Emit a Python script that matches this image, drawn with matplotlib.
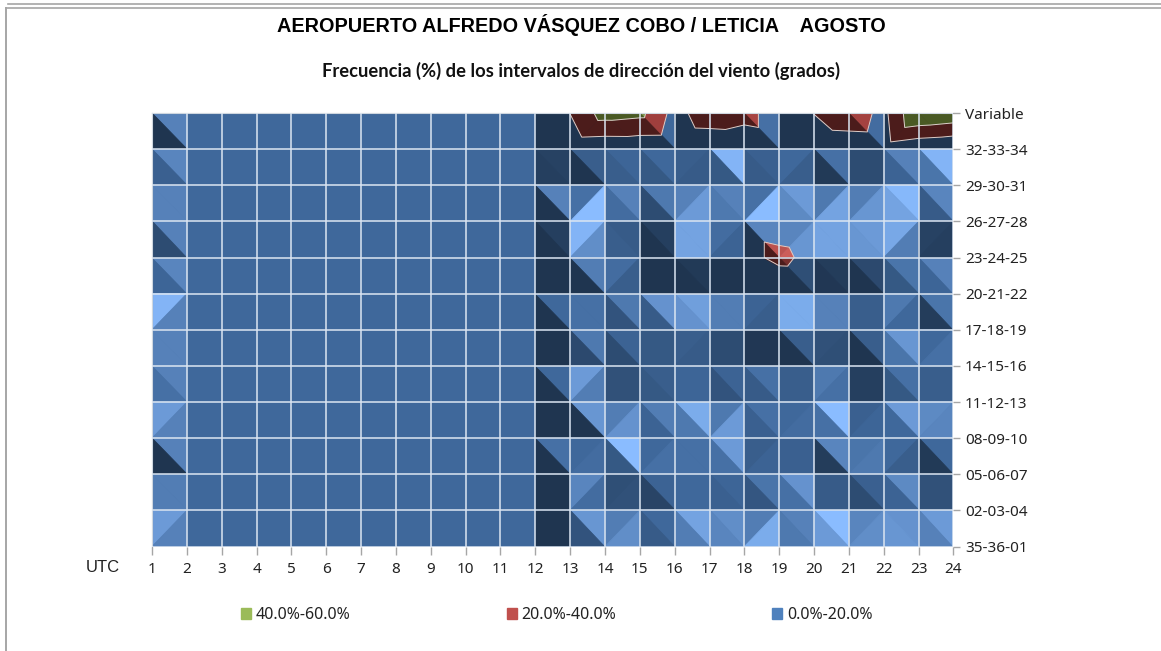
import matplotlib
matplotlib.use("Agg")
import matplotlib.pyplot as plt
import matplotlib.tri as mtri
import numpy as np
from matplotlib.collections import PolyCollection
from matplotlib.colors import LinearSegmentedColormap
from matplotlib.lines import Line2D
from matplotlib.patches import Patch

hours = list(range(1, 25))
directions = ["Variable", "32-33-34", "29-30-31", "26-27-28", "23-24-25", "20-21-22", "17-18-19",
              "14-15-16", "11-12-13", "08-09-10", "05-06-07", "02-03-04", "35-36-01"]

# facet shading, -10 darkest, 0 flat, 10 brightest
upper_hour1 = [3, 3.5, 3, 3, 3.5, 9, 3, 3, 6, 3, 2.5, 6]
lower_hour1 = [-10, -1.5, 3, -5.5, -0.5, 3, 3, 1, 3, -10, 2.5, 3]

# cells 12-13 up to 23-24
upper_late = [
    [-10, -10, -10, 0, -10, -10, 1, -10, -10, 0.5, -10, -10],
    [-7.5, -2, -0.5, 0, -2, 9, -1.5, 0, 1, -5.5, 3, 9],
    [3, 1, 3, 2, 3, 3, 1, 6, 2, 2.5, 9.5, 3.5],
    [-8, 9, -2.5, -8, 7, 0.5, 3.5, 3.5, 7, 6, 7.5, -7.5],
    [-10, 2.5, 0.5, -10, -9, -10, -10, -5, -8.5, -6, 1.5, 3],
    [0, 1, 2, 5, 6.5, 2.5, -1, 8, 3, -2, 2, 1.5],
    [-10, 2, -1, -3, -2, -5.5, -9.5, -2, -4.5, -2, 5.5, 0],
    [0, 6, -4.5, -2, -0.5, -1, 1, -2, 2, -8, 1, -2],
    [-10, 5.5, 2.5, 2.5, 8, 2, 1, 0, 10, -1.5, 6, 4],
    [1, 0, 10, 0, 1, 6, -2, -1.5, 3.5, 1.5, 0, 0],
    [-10, 3.5, -5, -1, 0, -0.5, 1.5, 5, -2.5, -1.5, 4, -4.5],
    [-10, 5.5, 2.5, 0, 7, 4.5, 2.5, 3, 10, 3.5, 5, 6],
]
lower_late = [
    [-10, -10, -10, -10, -10, -10, -10, -10, -10, -10, -10, -10],
    [-8, -10, -2, -3, -2.5, -3, -2.5, -2, -9, -5.5, -1, 1.5],
    [-10, 10, 0.5, -5.5, 6, 2, 10, 4, 7, 5.5, 7, -2.5],
    [-10, 4.5, -2, -10, 7, -1, -10, 5.5, 7, 5.5, 2.5, -8],
    [-10, -10, -2, -10, -10, -10, -10, -10, -9.5, -10, -3, -0.5],
    [-10, 1, -4, -2.5, 5, 2.5, -2, 8, 3, -2, 0, -8.5],
    [-10, -6, -5.5, -3, -2.5, -5.5, -9.5, -10, -5, -10, 1.5, 1],
    [-10, 2.5, -4.5, -3, -0.5, -4, -2.5, -2, 1, -8, -3, -2],
    [-10, -10, 5, -1, 2, 6, -1.5, 0.5, 1, -0.5, 0, 3.5],
    [-10, 0.5, -3, 1, 1, 1, -1, -1.5, -8.5, 2, -2, -9],
    [-10, 0.5, -4.5, -7, 0, -1.5, -3.5, 1, -2.5, -5.5, -1, -4.5],
    [-10, -4, 4.5, -2.5, 2.5, 3.5, 8, 2, 6, 4.5, 5.5, 3],
]

# cells (by starting hour) split from bottom-left to top-right, per row
anti_cells = [[13, 16, 20, 22], [16, 19], [13, 16, 18, 20, 21], [13, 17, 19, 22, 23], [14], [1, 18, 22],
              [16, 20, 23], [13, 20], [1, 14, 17, 19, 21, 23], [13, 15, 18, 21, 22], [13, 14, 16], [1, 14, 18, 21]]

# frequency estimates where the surface comes near or above 20 %, all else stays in the 0-20 band
freq_variable = [4, 0, 0, 0, 0, 0, 0, 0, 0, 0, 0, 0, 20.5, 49, 45.5, 13, 31.4, 26.7, 10, 20.5, 31, 14.6, 60, 55]
freq_3233_late = [5.6, 4, 4.4, 4, 4.9, 6.4, 10, 8, 9, 10, 3, 0]
freq_2627_h18 = [14.7, 12, 10]
freq_2324_h18 = [14.7, 24, 14.7]
freq_2021_h18 = [5, 6.6, 7.3]

band_levels = [20, 40]
band_labels = ["40.0%-60.0%", "20.0%-40.0%", "0.0%-20.0%"]
band_colors = ["#9BBB59", "#C0504D", "#4F81BD"]

upper = np.zeros((12, 23))
lower = np.zeros((12, 23))
upper[:, 0] = upper_hour1
lower[:, 0] = lower_hour1
upper[:, 11:] = upper_late
lower[:, 11:] = lower_late

freq = np.zeros((13, 24))
freq[0] = freq_variable
freq[1, 12:] = freq_3233_late
freq[3, 17:20] = freq_2627_h18
freq[4, 17:20] = freq_2324_h18
freq[5, 17:20] = freq_2021_h18

# two triangles per cell, the split depends on the cell
triangles = []
shades = []
for r in range(12):
    for c in range(23):
        tl, tr = r * 24 + c, r * 24 + c + 1
        bl, br = tl + 24, tr + 24
        if c + 1 in anti_cells[r]:
            triangles += [[tl, tr, bl], [tr, bl, br]]
        else:
            triangles += [[tl, tr, br], [tl, bl, br]]
        shades += [upper[r, c] / 10, lower[r, c] / 10]
shades = np.array(shades)
triangles = np.array(triangles)

xx, yy = np.meshgrid(hours, range(13))
tri = mtri.Triangulation(xx.ravel(), yy.ravel(), triangles)
zz = freq.ravel()

blue_map = LinearSegmentedColormap.from_list("b", ["#1F3550", "#3F689B", "#8ABCFF"])
red_map = LinearSegmentedColormap.from_list("r", ["#4C1C1B", "#A03F3D", "#F07570"])
green_map = LinearSegmentedColormap.from_list("g", ["#4A5A24", "#7D964A", "#9BBB59"])


def above_level(tr_idx, level):
    # part of a triangle where the surface is above level
    pts = []
    for i in range(3):
        a, b = tr_idx[i], tr_idx[(i + 1) % 3]
        za, zb = zz[a], zz[b]
        if za >= level:
            pts.append((tri.x[a], tri.y[a]))
        if (za >= level) != (zb >= level):
            t = (level - za) / (zb - za)
            pts.append((tri.x[a] + t * (tri.x[b] - tri.x[a]), tri.y[a] + t * (tri.y[b] - tri.y[a])))
    return pts


fig = plt.figure(figsize=(11.61, 6.51), dpi=100)
ax = fig.add_axes([152 / 1161, 1 - 546.5 / 651, (953.5 - 152) / 1161, (546.5 - 113) / 651])
ax.set_facecolor("#3F689B")

ax.tripcolor(tri, facecolors=shades, cmap=blue_map, vmin=-1, vmax=1, edgecolors="face", linewidth=0.6, zorder=1)

for level, cmap, z in zip(band_levels, [red_map, green_map], [1.1, 1.2]):
    polys = []
    cols = []
    for t, s in zip(triangles, shades):
        pts = above_level(t, level)
        if len(pts) > 2:
            polys.append(pts)
            cols.append(cmap((s + 1) / 2))
    ax.add_collection(PolyCollection(polys, facecolors=cols, edgecolors="face", linewidths=0.4, zorder=z))

ax.tricontour(tri, zz, levels=band_levels, colors="#DCCFCB", linewidths=0.7, zorder=1.3)

ax.set_xlim(1, 24)
ax.set_ylim(12, 0)
ax.set_xticks(hours)
ax.set_yticks(range(13))
ax.set_yticklabels(directions)
ax.yaxis.tick_right()
ax.grid(True, color="#DCE6F2", linewidth=1.1)
ax.set_axisbelow(False)
ax.tick_params(axis="both", width=1, color="#A6A6A6", labelsize=11, labelcolor="#222222")
ax.tick_params(axis="x", length=5.5, pad=6)
ax.tick_params(axis="y", length=5, pad=3.3)
for lab in ax.get_xticklabels() + ax.get_yticklabels():
    lab.set_family("Noto Sans")
for side in ["right", "bottom"]:
    ax.spines[side].set_visible(False)
for side in ["left", "top"]:
    ax.spines[side].set_color("#A6A6A6")

fig.text(581 / 1161, 1 - 25 / 651, "AEROPUERTO ALFREDO VÁSQUEZ COBO / LETICIA    AGOSTO", ha="center", va="center",
         family="Liberation Sans", weight="bold", fontsize=14.3, color="black")
fig.text(581 / 1161, 1 - 71 / 651, "Frecuencia (%) de los intervalos de dirección del viento (grados)", ha="center",
         va="center", family="Lato", weight="bold", fontsize=13.2, color="#111111")
fig.text(103 / 1161, 1 - 568 / 651, "UTC", ha="center", va="center", family="Liberation Sans", fontsize=12,
         color="#222222")

handles = [Patch(color=c, label=l) for c, l in zip(band_colors, band_labels)]
leg = fig.legend(handles=handles, ncol=3, frameon=False, loc="center left", bbox_to_anchor=(235 / 1161, 1 - 615 / 651),
                 handlelength=0.62, handleheight=0.62, handletextpad=0.3, columnspacing=9.76, borderaxespad=0,
                 prop={"family": "Noto Sans", "size": 11.5})
for txt in leg.get_texts():
    txt.set_color("#222222")

# frame of the pasted chart
fig.add_artist(Line2D([8 / 1161, 1], [1 - 3.5 / 651] * 2, color="#A6A6A6", lw=1.2))
fig.add_artist(Line2D([6 / 1161, 1], [1 - 7.5 / 651] * 2, color="#A6A6A6", lw=1.2))
fig.add_artist(Line2D([6 / 1161] * 2, [1 - 7.5 / 651, 0], color="#A6A6A6", lw=1.4))

fig.savefig("out.png", dpi=100)
